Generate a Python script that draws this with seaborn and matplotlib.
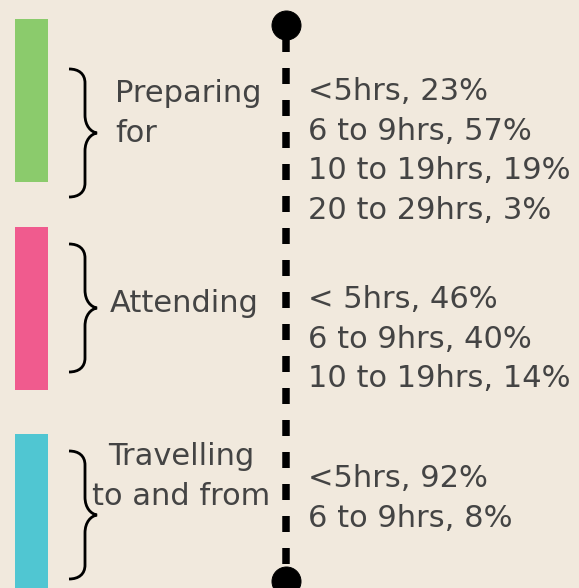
import numpy as np
import seaborn as sns
import matplotlib.pyplot as plt
from matplotlib.path import Path
from matplotlib.patches import PathPatch

# data
activities = ['Preparing\nfor', 'Attending', 'Travelling\nto and from']
hour_bands = [
    ['<5hrs', '6 to 9hrs', '10 to 19hrs', '20 to 29hrs'],
    ['< 5hrs', '6 to 9hrs', '10 to 19hrs'],
    ['<5hrs', '6 to 9hrs'],
]
shares = [
    [23, 57, 19, 3],
    [46, 40, 14],
    [92, 8],
]
bar_colors = ['#8BCB6C', '#F05B8E', '#50C6D2']

# layout (pixels, y from the top)
W, H = 579, 588
bar_x, bar_w, bar_len = 31.5, 33, 163
bar_top = [19, 227, 434]
brace_x0 = 69
brace_mid = [133, 308, 515]
label_x = [115, 110, 181]
label_ha = ['left', 'left', 'center']
label_base = [102, 312, 465]
list_x = 308
list_base = [100, 308, 487]
line_step = 39.7
axis_x, axis_top, axis_bot = 285.5, 25, 581

bg = '#F1E9DD'
text_color = '#444444'
fs = 30.5

sns.set_theme(style='white', rc={'figure.facecolor': bg, 'axes.facecolor': bg})
plt.rcParams['font.family'] = ['DejaVu Sans']


def draw_brace(ax, x0, yc, half=64, lw=2.8):
    '''
    Right facing curly brace, x0 is the open side.
    '''
    xm = x0 + 16
    xt = x0 + 28
    yt, yb = yc - half, yc + half
    verts = [
        (x0, yt), (x0 + 10, yt), (xm, yt + 5), (xm, yt + 14),
        (xm, yc - 18),
        (xm, yc - 7), (xm + 6, yc - 1), (xt, yc),
        (xm + 6, yc + 1), (xm, yc + 7), (xm, yc + 18),
        (xm, yb - 14),
        (xm, yb - 5), (x0 + 10, yb), (x0, yb),
    ]
    codes = ([Path.MOVETO] + [Path.CURVE4] * 3 + [Path.LINETO] + [Path.CURVE4] * 6
             + [Path.LINETO] + [Path.CURVE4] * 3)
    ax.add_patch(PathPatch(Path(verts, codes), fill=False, lw=lw,
                           edgecolor='black', capstyle='butt', joinstyle='miter'))


fig = plt.figure(figsize=(W / 72, H / 72), dpi=72)
ax = fig.add_axes([0, 0, 1, 1])
ax.set_xlim(0, W)
ax.set_ylim(H, 0)
ax.axis('off')

# colour blocks
ax.bar([bar_x] * len(activities), [bar_len] * len(activities), width=bar_w,
       bottom=bar_top, color=bar_colors, linewidth=0)

# dashed timeline with end dots
ax.plot([axis_x, axis_x], [axis_top + 11, axis_bot], color='black', lw=7.5,
        dashes=(16 / 7.5, 16 / 7.5), dash_capstyle='butt')
ax.plot([axis_x, axis_x], [axis_top, axis_bot], 'o', ms=29, color='black')

for i, act in enumerate(activities):
    draw_brace(ax, brace_x0, brace_mid[i])
    for j, line in enumerate(act.split('\n')):
        ax.text(label_x[i], label_base[i] + j * line_step, line, fontsize=fs,
                color=text_color, ha=label_ha[i], va='baseline')
    for j, (band, pct) in enumerate(zip(hour_bands[i], shares[i])):
        ax.text(list_x, list_base[i] + j * line_step, f'{band}, {pct}%', fontsize=fs,
                color=text_color, ha='left', va='baseline')

fig.savefig('out.png', dpi=72, facecolor=bg)
